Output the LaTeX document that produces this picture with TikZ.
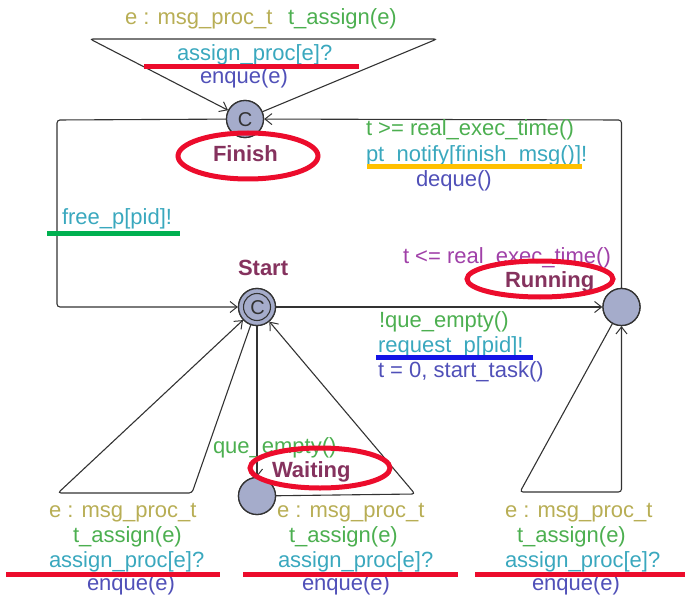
\documentclass[tikz,border=0pt]{standalone}
\usepackage{fontspec}
\setmainfont{Liberation Sans}
\usetikzlibrary{arrows.meta}

\definecolor{selcol}{HTML}{B8AE55}
\definecolor{guardcol}{HTML}{4CAF50}
\definecolor{synccol}{HTML}{3AA8BE}
\definecolor{updcol}{HTML}{5050B8}
\definecolor{invcol}{HTML}{A040A8}
\definecolor{namecol}{HTML}{85325E}
\definecolor{locfill}{HTML}{A5ACCB}
\definecolor{edgecol}{HTML}{333333}
\definecolor{hlred}{HTML}{EC0C2C}
\definecolor{hlorange}{HTML}{FFC000}
\definecolor{hlgreen}{HTML}{00B050}
\definecolor{hlblue}{HTML}{1414E6}

\begin{document}
\begin{tikzpicture}[x=1pt,y=-1pt,
  loc/.style={circle, draw=edgecol, line width=1.3pt, fill=locfill,
    minimum size=37pt, inner sep=0pt},
  edge/.style={draw=edgecol, line width=1.1pt, rounded corners=3pt,
    -{Straight Barb[length=7pt,width=11pt,line width=1pt]}},
  lbl/.style={anchor=base west, inner sep=0pt, outer sep=0pt,
    font=\fontsize{22}{24}\selectfont},
  sel/.style={lbl, text=selcol},
  grd/.style={lbl, text=guardcol},
  syn/.style={lbl, text=synccol},
  upd/.style={lbl, text=updcol},
  inv/.style={lbl, text=invcol},
  nm/.style={lbl, text=namecol, font=\fontsize{22}{24}\selectfont\bfseries},
  committed/.style={inner sep=0pt, text=edgecol, font=\fontsize{20}{20}\selectfont},
  hl/.style={line width=5pt},
]
\useasboundingbox (0,0) rectangle (685,596);

% locations
\coordinate (finC) at (245,119);
\coordinate (startC) at (257,307);
\coordinate (runC) at (621.5,307);
\coordinate (waitC) at (257,496);

% bend points of the edges
\coordinate (loopTR) at (437,39);
\coordinate (loopTL) at (90,39);
\coordinate (runUp) at (621.5,120);
\coordinate (finLeft) at (57,120);
\coordinate (finDown) at (57,307);
\coordinate (slR) at (192,493);
\coordinate (slL) at (58,493);
\coordinate (wtR) at (415,494);
\coordinate (rlL) at (520,492);
\coordinate (rlR) at (621.5,492);

\node[loc] (fin) at (finC) {};
\node[loc] (start) at (startC) {};
\node[loc] (run) at (runC) {};
\node[loc] (wait) at (waitC) {};

% edges
\path[edge] (fin) -- (loopTR) -- (loopTL) -- (fin);
\path[edge] (run) -- (runUp) -- (fin);
\path[edge] (fin) -- (finLeft) -- (finDown) -- (start);
\path[edge] (start) -- (run);
\path[edge] (start) -- (wait);
\path[edge] (start) -- (slR) -- (slL) -- (start);
\path[edge] (wait) -- (wtR) -- (start);
\path[edge] (run) -- (rlL) -- (rlR) -- (run);

% redraw locations on top of the edges
\node[loc] at (finC) {};
\node[loc] at (startC) {};
\node[loc] at (runC) {};
\node[loc] at (waitC) {};
\draw[draw=edgecol, line width=1.1pt] (startC) circle[radius=13.5pt];
\node[committed] (finMark) at (245,120) {C};
\node[committed] (startMark) at (257.5,308) {C};

% names and invariant
\node[nm] (nFinish) at (213,162) {Finish};
\node[nm] (nStart) at (238,275) {Start};
\node[nm] (nRunning) at (505,287) {Running};
\node[nm] (nWaiting) at (272,477) {Waiting};
\node[inv] (invRun) at (403,263) {t <= real\_exec\_time()};

% Finish self loop
\node[sel] (s1) at (125,25) {e : msg\_proc\_t};
\node[grd] (g1) at (288,25) {t\_assign(e)};
\node[syn] (y1) at (177,61) {assign\_proc[e]?};
\node[upd] (u1) at (200,84) {enque(e)};

% Running -> Finish
\node[grd] (g2) at (366,136) {t >= real\_exec\_time()};
\node[syn] (y2) at (366,162) {pt\_notify[finish\_msg()]!};
\node[upd] (u2) at (416,187) {deque()};

% Finish -> Start
\node[syn] (y3) at (62,225) {free\_p[pid]!};

% Start -> Running
\node[grd] (g4) at (379,327) {!que\_empty()};
\node[syn] (y4) at (378,352) {request\_p[pid]!};
\node[upd] (u4) at (378,377) {t = 0, start\_task()};

% Start -> Waiting
\node[grd] (g5) at (213,453) {que\_empty()};

% Start self loop
\node[sel] (s6) at (49,517) {e : msg\_proc\_t};
\node[grd] (g6) at (73,542) {t\_assign(e)};
\node[syn] (y6) at (49,567) {assign\_proc[e]?};
\node[upd] (u6) at (87,590) {enque(e)};

% Waiting -> Start
\node[sel] (s7) at (277,517) {e : msg\_proc\_t};
\node[grd] (g7) at (289,542) {t\_assign(e)};
\node[syn] (y7) at (278,567) {assign\_proc[e]?};
\node[upd] (u7) at (302,590) {enque(e)};

% Running self loop
\node[sel] (s8) at (505,517) {e : msg\_proc\_t};
\node[grd] (g8) at (517,542) {t\_assign(e)};
\node[syn] (y8) at (505,567) {assign\_proc[e]?};
\node[upd] (u8) at (532,590) {enque(e)};

% highlight marks
\draw[hl, hlred] (144,67) -- (359,67);
\draw[hl, hlred] (248,156) ellipse [x radius=70pt, y radius=23pt];
\draw[hl, hlorange] (367,167) -- (582,167);
\draw[hl, hlgreen] (47,233) -- (180,233);
\draw[hl, hlred] (540,279) ellipse [x radius=73pt, y radius=18pt];
\draw[hl, hlblue] (376,357) -- (533,357);
\draw[hl, hlred] (320,468) ellipse [x radius=70pt, y radius=20pt];
\draw[hl, hlred] (6,574) -- (220,574);
\draw[hl, hlred] (243,574) -- (458,574);
\draw[hl, hlred] (475,574) -- (685,574);
\end{tikzpicture}
\end{document}
